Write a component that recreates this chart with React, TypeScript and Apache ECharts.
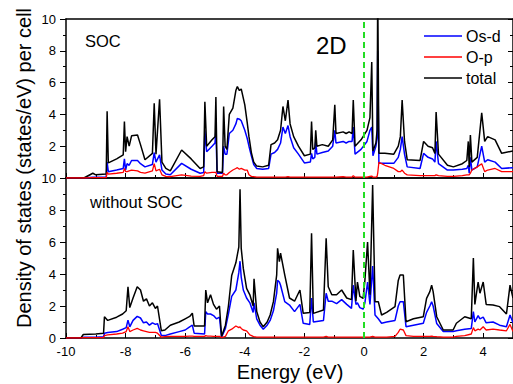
import React, { useEffect, useRef } from "react";
import * as echarts from "echarts";

// ---------- data: top panel (SOC) ----------
const energyTop = [
  -10.0, -9.4, -9.1, -9.0, -8.65, -8.62, -8.58, -8.3, -8.08, -8.04, -8.0, -7.95, -7.88, -7.8, -7.6, -7.5,
  -7.35, -7.1, -7.04, -6.98, -6.86, -6.78, -6.65, -6.5, -6.12, -5.8, -5.5, -5.38, -5.34, -5.28, -5.1, -5.0,
  -4.97, -4.93, -4.75, -4.71, -4.66, -4.6, -4.52, -4.4, -4.3, -4.25, -4.18, -4.12, -4.0, -3.92, -3.86, -3.78,
  -3.7, -3.6, -3.4, -3.2, -3.12, -3.0, -2.9, -2.8, -2.72, -2.64, -2.55, -2.48, -2.36, -2.2, -2.0, -1.8,
  -1.76, -1.72, -1.65, -1.62, -1.58, -1.4, -1.2, -1.05, -0.98, -0.94, -0.7, -0.6, -0.5, -0.4, -0.36, -0.3,
  -0.1, 0.1, 0.2, 0.26, 0.3, 0.4, 0.44, 0.46, 0.5, 0.7, 1.0, 1.15, 1.22, 1.28, 1.36, 1.45,
  1.88, 2.0, 2.15, 2.3, 2.38, 2.42, 2.5, 2.8, 3.0, 3.3, 3.45, 3.5, 3.53, 3.57, 3.62, 3.8,
  3.95, 4.05, 4.15, 4.4, 4.62, 5.0,
];
const totalTop = [
  0, 0, 0.3, 0.2, 0.25, 4.2, 0.95, 1.2, 1.45, 3.55, 1.65, 2.6, 2.0, 2.65, 2.7, 2.1,
  1.15, 1.55, 4.7, 1.5, 4.95, 1.0, 0.6, 0.45, 1.76, 1.2, 0.6, 0.7, 4.8, 2.0, 2.4, 2.6,
  5.1, 0.4, 0.35, 4.5, 2.0, 1.8, 4.0, 4.4, 5.5, 5.75, 5.5, 5.6, 4.6, 3.5, 2.6, 1.6,
  1.0, 0.75, 0.7, 0.8, 2.1, 2.2, 2.4, 3.0, 4.5, 3.6, 4.9, 3.4, 2.6, 2.0, 1.4, 1.5,
  3.55, 1.8, 1.9, 3.0, 2.0, 2.1, 2.0, 2.4, 4.6, 2.8, 2.9, 2.8, 2.9, 2.8, 4.9, 2.0,
  2.4, 3.0, 3.8, 7.3, 1.7, 2.2, 3.0, 12, 1.55, 1.55, 1.5, 2.0, 2.6, 4.9, 2.3, 1.15,
  1.1, 2.3, 2.0, 1.9, 1.55, 4.15, 1.5, 0.8, 0.7, 0.9, 1.1, 2.3, 0.7, 2.7, 1.0, 1.3,
  4.1, 2.3, 2.6, 2.4, 1.55, 1.7,
];
const osdTop = [
  0, 0, 0.05, 0.05, 0.05, 1.0, 0.4, 0.5, 0.6, 1.2, 0.5, 0.9, 0.8, 1.1, 1.1, 0.9,
  0.7, 0.85, 1.6, 1.0, 1.45, 0.5, 0.25, 0.2, 0.92, 0.55, 0.3, 0.35, 3.0, 1.65, 2.0, 2.2,
  3.0, 0.3, 0.3, 2.0, 1.5, 1.5, 2.8, 3.0, 3.4, 3.75, 3.7, 3.6, 3.0, 2.5, 2.0, 1.4,
  0.85, 0.6, 0.55, 0.6, 1.5, 1.6, 1.8, 2.2, 3.2, 2.8, 3.3, 2.6, 1.9, 1.5, 0.95, 1.0,
  1.55, 1.2, 1.3, 2.3, 1.5, 1.6, 1.7, 2.0, 3.0, 2.2, 2.3, 2.2, 2.3, 2.3, 3.2, 1.5,
  1.8, 2.3, 3.0, 3.2, 1.4, 2.0, 2.5, 8, 0.92, 0.92, 0.92, 1.3, 1.8, 2.6, 1.5, 0.7,
  0.6, 1.55, 1.3, 1.2, 1.0, 2.3, 0.9, 0.5, 0.5, 0.55, 0.6, 0.8, 0.3, 1.3, 0.5, 0.7,
  2.0, 1.0, 1.15, 1.0, 0.6, 0.65,
];
const opTop = [
  0, 0, 0.02, 0.02, 0.03, 0.35, 0.25, 0.3, 0.35, 0.6, 0.4, 0.4, 0.45, 0.5, 0.45, 0.35,
  0.3, 0.45, 0.9, 0.45, 0.55, 0.2, 0.1, 0.08, 0.2, 0.12, 0.1, 0.15, 0.4, 0.3, 0.35, 0.35,
  0.35, 0.1, 0.1, 0.3, 0.2, 0.2, 0.35, 0.5, 0.6, 0.65, 0.55, 0.6, 0.5, 0.5, 0.2, 0.1,
  0.08, 0.05, 0.05, 0.05, 0.05, 0.05, 0.05, 0.05, 0.05, 0.06, 0.08, 0.05, 0.05, 0.05, 0.05, 0.05,
  0.05, 0.05, 0.05, 0.05, 0.05, 0.05, 0.05, 0.05, 0.05, 0.05, 0.08, 0.05, 0.05, 0.05, 0.15, 0.05,
  0.05, 0.05, 0.1, 0.12, 0.05, 0.05, 0.1, 0.3, 0.98, 0.8, 0.6, 0.4, 0.4, 0.5, 0.3, 0.2,
  0.15, 0.15, 0.15, 0.15, 0.15, 0.2, 0.15, 0.1, 0.1, 0.15, 0.2, 0.2, 0.2, 0.3, 0.5, 0.7,
  0.9, 0.4, 0.5, 0.6, 0.4, 0.4,
];

// ---------- data: bottom panel (without SOC) ----------
const energyBottom = [
  -10.0, -9.5, -9.42, -9.0, -8.74, -8.71, -8.6, -8.3, -8.1, -7.98, -7.92, -7.86, -7.75, -7.61, -7.5, -7.4,
  -7.3, -7.2, -7.1, -7.0, -6.93, -6.8, -6.68, -6.5, -6.2, -6.0, -5.85, -5.76, -5.7, -5.35, -5.31, -5.25,
  -5.15, -5.05, -4.95, -4.85, -4.78, -4.65, -4.55, -4.44, -4.3, -4.2, -4.16, -4.12, -4.05, -3.94, -3.83, -3.72,
  -3.69, -3.6, -3.49, -3.38, -3.25, -3.15, -3.04, -2.93, -2.9, -2.84, -2.8, -2.66, -2.5, -2.33, -2.15, -2.04,
  -1.82, -1.76, -1.7, -1.36, -1.27, -1.2, -1.08, -0.92, -0.75, -0.58, -0.42, -0.36, -0.27, -0.22, -0.14, -0.03,
  0.03, 0.12, 0.2, 0.29, 0.37, 0.48, 0.59, 0.76, 1.04, 1.15, 1.21, 1.32, 1.41, 1.66, 1.99, 2.1,
  2.21, 2.27, 2.32, 2.44, 2.66, 2.99, 3.1, 3.38, 3.6, 3.67, 3.72, 3.83, 3.89, 4.0, 4.1, 4.33,
  4.55, 4.78, 4.9, 5.0,
];
const totalBottom = [
  0, 0, 0.22, 0.25, 0.3, 1.33, 1.1, 1.3, 1.5, 1.7, 3.2, 1.9, 2.5, 3.2, 3.0, 2.3,
  2.45, 2.0, 2.2, 1.85, 2.0, 0.45, 0.5, 0.8, 1.0, 1.2, 1.35, 1.55, 0.75, 0.75, 3.0, 2.2,
  2.7, 2.1, 1.8, 2.0, 0.1, 0.8, 2.0, 3.9, 4.7, 5.7, 9.3, 5.6, 4.35, 3.1, 2.7, 2.0,
  3.7, 1.65, 1.0, 0.7, 1.0, 1.44, 2.27, 3.94, 5.6, 4.77, 5.3, 3.94, 2.5, 2.3, 3.0, 1.54,
  1.6, 6.54, 1.54, 1.75, 6.23, 3.2, 2.7, 2.7, 3.0, 2.5, 2.4, 5.5, 2.3, 3.5, 2.6, 2.48,
  3.6, 6.0, 2.7, 9.56, 2.27, 2.27, 1.44, 1.6, 1.96, 3.6, 3.94, 3.94, 1.02, 1.2, 1.33, 2.48,
  2.9, 3.3, 2.9, 1.33, 0.5, 0.5, 0.92, 1.33, 1.2, 5.0, 2.1, 3.5, 2.8, 3.5, 2.1, 2.06,
  1.96, 1.5, 3.3, 2.5,
];
const osdBottom = [
  0, 0, 0.04, 0.05, 0.08, 0.3, 0.35, 0.4, 0.55, 0.65, 1.12, 0.7, 1.1, 1.35, 1.25, 0.95,
  1.0, 0.8, 0.95, 0.85, 0.9, 0.15, 0.15, 0.25, 0.4, 0.5, 0.7, 0.8, 0.3, 0.25, 1.65, 1.5,
  1.5, 1.4, 1.2, 1.3, 0.05, 0.6, 1.5, 2.6, 3.0, 4.1, 4.8, 3.8, 3.0, 2.5, 2.2, 1.6,
  2.2, 1.2, 0.8, 0.55, 0.8, 1.1, 1.7, 2.8, 3.6, 3.5, 3.3, 2.27, 2.06, 1.65, 2.1, 0.92,
  0.85, 2.5, 1.0, 1.1, 2.8, 2.3, 2.3, 2.15, 2.4, 2.1, 1.85, 3.3, 2.1, 2.2, 1.9, 1.8,
  2.2, 3.5, 2.1, 4.5, 1.44, 1.2, 0.92, 1.0, 1.1, 2.0, 2.27, 2.27, 0.71, 0.8, 0.92, 1.6,
  2.0, 2.27, 2.0, 0.9, 0.4, 0.4, 0.45, 0.55, 0.6, 1.65, 1.0, 1.4, 1.2, 1.3, 0.95, 1.0,
  0.8, 0.7, 1.44, 0.95,
];
const opBottom = [
  0, 0, 0.02, 0.02, 0.03, 0.15, 0.2, 0.25, 0.3, 0.4, 0.7, 0.4, 0.5, 0.6, 0.5, 0.45,
  0.4, 0.35, 0.35, 0.35, 0.3, 0.05, 0.08, 0.1, 0.1, 0.1, 0.12, 0.12, 0.1, 0.1, 0.15, 0.12,
  0.12, 0.1, 0.1, 0.1, 0.03, 0.1, 0.45, 0.55, 0.75, 0.65, 0.7, 0.6, 0.5, 0.45, 0.2, 0.1,
  0.08, 0.06, 0.05, 0.05, 0.05, 0.05, 0.05, 0.05, 0.05, 0.05, 0.05, 0.05, 0.05, 0.05, 0.05, 0.05,
  0.05, 0.05, 0.05, 0.05, 0.1, 0.05, 0.05, 0.05, 0.05, 0.05, 0.05, 0.05, 0.05, 0.05, 0.05, 0.05,
  0.05, 0.05, 0.05, 0.1, 0.05, 0.05, 0.05, 0.05, 0.1, 0.35, 0.55, 0.5, 0.15, 0.1, 0.1, 0.1,
  0.1, 0.12, 0.1, 0.08, 0.05, 0.05, 0.1, 0.15, 0.25, 0.65, 0.45, 0.55, 0.5, 0.7, 0.5, 0.55,
  0.5, 0.45, 0.85, 0.4,
];

// Fermi level (reference line)
const fermiEnergy = 0;
const fermiSpan = [0, 10];

// ---------- labels ----------
const seriesNames = ["Os-d", "O-p", "total"];
const seriesColors = ["#0000ff", "#ff0000", "#000000"];
const panelLabels = ["SOC", "without SOC"];
const xAxisTitle = "Energy (eV)";
const yAxisTitle = "Density of states (states/eV) per cell";
const dimLabel = "2D";

const FONT = "Liberation Sans, Arial, Helvetica, sans-serif";

function pairs(xs: number[], ys: number[]) {
  return xs.map((x, i) => [x, ys[i]]);
}

export default function App() {
  const ref = useRef<HTMLDivElement>(null);

  useEffect(() => {
    if (!ref.current) return;
    const chart = echarts.init(ref.current, undefined, { renderer: "svg" });

    const axisLine = { show: true, onZero: false, lineStyle: { color: "#000", width: 1.5 } };

    const xBase = {
      type: "value" as const,
      min: -10,
      max: 5,
      interval: 2,
      splitLine: { show: false },
      axisLine,
    };
    const yBase = {
      type: "value" as const,
      min: 0,
      max: 10,
      interval: 2,
      splitLine: { show: false },
      axisLine,
    };

    const leftY = (gridIndex: number, showMin: boolean) => ({
      ...yBase,
      gridIndex,
      position: "left" as const,
      axisTick: { show: true, inside: false, length: 6, lineStyle: { color: "#000", width: 1 } },
      minorTick: { show: true, splitNumber: 2, length: 3, lineStyle: { color: "#000", width: 1 } },
      axisLabel: {
        show: true,
        margin: 10,
        fontSize: 13,
        fontFamily: FONT,
        color: "#000",
        showMinLabel: showMin,
        showMaxLabel: true,
      },
    });
    const rightY = (gridIndex: number) => ({
      ...yBase,
      gridIndex,
      position: "right" as const,
      axisTick: { show: true, inside: true, length: 5, lineStyle: { color: "#000", width: 1 } },
      minorTick: { show: true, splitNumber: 2, length: 3, lineStyle: { color: "#000", width: 1 } },
      axisLabel: { show: false },
    });
    const bottomX = (gridIndex: number, labels: boolean) => ({
      ...xBase,
      gridIndex,
      position: "bottom" as const,
      axisTick: { show: true, inside: true, length: 5, lineStyle: { color: "#000", width: 1 } },
      minorTick: { show: true, splitNumber: 2, length: 3, lineStyle: { color: "#000", width: 1 } },
      axisLabel: {
        show: labels,
        margin: 7,
        fontSize: 13,
        fontFamily: FONT,
        color: "#000",
        showMaxLabel: false,
      },
    });
    const topX = (gridIndex: number) => ({
      ...xBase,
      gridIndex,
      position: "top" as const,
      axisTick: { show: false },
      axisLabel: { show: false },
    });

    const panel = (
      idx: number,
      e: number[],
      osd: number[],
      op: number[],
      tot: number[]
    ) => {
      const values = [osd, op, tot];
      const lines: any[] = values.map((v, k) => ({
        type: "line" as const,
        name: seriesNames[k],
        xAxisIndex: idx * 2,
        yAxisIndex: idx * 2,
        data: pairs(e, v),
        showSymbol: false,
        symbol: "none",
        clip: true,
        silent: true,
        z: k === 2 ? 3 : k === 0 ? 2 : 4,
        lineStyle: { color: seriesColors[k], width: k === 1 ? 1.3 : 1.5 },
      }));
      lines.push({
        type: "line" as const,
        name: "Fermi",
        xAxisIndex: idx * 2,
        yAxisIndex: idx * 2,
        data: fermiSpan.map((y) => [fermiEnergy, y]),
        showSymbol: false,
        symbol: "none",
        clip: false,
        silent: true,
        z: 6,
        lineStyle: { color: "#22dd22", width: 2, type: [6, 4] },
      });
      return lines;
    };

    const legendRows = seriesNames.map((n, i) => [
      {
        type: "line",
        shape: { x1: 424, y1: 36 + i * 21, x2: 462, y2: 36 + i * 21 },
        style: { stroke: seriesColors[i], lineWidth: 1.5 },
        z: 100,
      },
      {
        type: "text",
        x: 466,
        y: 36 + i * 21,
        style: {
          text: n,
          fontSize: 16,
          fontFamily: FONT,
          fill: "#000",
          align: "left",
          verticalAlign: "middle",
          textAlign: "left",
          textVerticalAlign: "middle",
        },
        z: 100,
      },
    ]).flat();

    const txt = (text: string, x: number, y: number, size: number, align = "left") => ({
      type: "text",
      x,
      y,
      style: {
        text,
        fontSize: size,
        fontFamily: FONT,
        fill: "#000",
        align,
        verticalAlign: "middle",
        textAlign: align,
        textVerticalAlign: "middle",
      },
    });

    chart.setOption({
      animation: false,
      backgroundColor: "#ffffff",
      grid: [
        { left: 66, top: 19, width: 447, height: 159, containLabel: false },
        { left: 66, top: 178, width: 447, height: 160, containLabel: false },
      ],
      xAxis: [bottomX(0, false), topX(0), bottomX(1, true), topX(1)],
      yAxis: [leftY(0, false), rightY(0), leftY(1, true), rightY(1)],
      series: [
        ...panel(0, energyTop, osdTop, opTop, totalTop),
        ...panel(1, energyBottom, osdBottom, opBottom, totalBottom),
      ],
      graphic: [
        txt(panelLabels[0], 85, 41, 16.5),
        txt(panelLabels[1], 90, 202, 16.5),
        txt(dimLabel, 316, 45, 24),
        txt(xAxisTitle, 290, 372, 20, "center"),
        {
          ...txt(yAxisTitle, 24, 168, 20, "center"),
          rotation: Math.PI / 2,
        },
        ...legendRows,
      ],
    });

    return () => chart.dispose();
  }, []);

  return (
    <div
      ref={ref}
      style={{ position: "absolute", left: 0, top: 0, width: 513, height: 384, background: "#fff" }}
    />
  );
}
